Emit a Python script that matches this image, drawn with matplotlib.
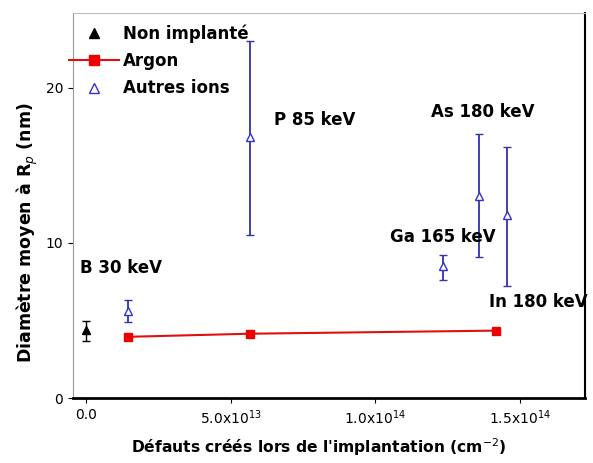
import matplotlib.pyplot as plt
import numpy as np
from matplotlib.lines import Line2D

plt.rcParams['font.family'] = ['DejaVu Sans']

# Non implanté
ref_x = [0.0]
ref_y = [4.4]
ref_err = [[0.7], [0.6]]

# Argon
argon_x = [1.45e13, 5.67e13, 14.19e13]
argon_y = [3.95, 4.15, 4.35]

# Autres ions
ions_noms = ["B 30 keV", "P 85 keV", "Ga 165 keV", "As 180 keV", "In 180 keV"]
ions_x = [1.45e13, 5.67e13, 12.35e13, 13.6e13, 14.57e13]
ions_y = [5.6, 16.8, 8.5, 13.0, 11.8]
ions_bas = [4.9, 10.5, 7.6, 9.1, 7.2]
ions_haut = [6.3, 23.0, 9.2, 17.0, 16.2]

# positions des etiquettes (coordonnees donnees)
etiq_x = [-0.2e13, 6.5e13, 10.5e13, 11.95e13, 13.95e13]
etiq_y = [8.4, 17.9, 10.4, 18.4, 6.2]

xticks = [0.0, 5e13, 1e14, 1.5e14]
xtick_labels = ["0.0", r"5.0x10$^{13}$", r"1.0x10$^{14}$", r"1.5x10$^{14}$"]
yticks = [0, 10, 20]

fig = plt.figure(figsize=(5.93, 4.63), dpi=100)
ax = fig.add_axes([0.123, 0.14, 0.864, 0.832])

ions_y = np.array(ions_y)
err = [ions_y - np.array(ions_bas), np.array(ions_haut) - ions_y]

ax.errorbar(ref_x, ref_y, yerr=ref_err, fmt='^', color='black', ms=6,
            capsize=3, elinewidth=1)
ax.plot(argon_x, argon_y, '-s', color='#e01010', mfc='#ee0000', mec='#ee0000',
        ms=6, lw=1.5)
ax.errorbar(ions_x, ions_y, yerr=err, fmt='^', color='#3333aa', mfc='white',
            mec='#3333cc', ms=6, capsize=3, elinewidth=1.3)

for nom, x, y in zip(ions_noms, etiq_x, etiq_y):
    ax.text(x, y, nom, fontsize=12, fontweight='bold', va='center', ha='left',
            clip_on=False)

ax.set_xlim(-0.45e13, 17.27e13)
ax.set_ylim(0, 24.8)
ax.set_xticks(xticks)
ax.set_xticklabels(xtick_labels, fontsize=10)
ax.set_yticks(yticks)
ax.set_yticklabels([str(t) for t in yticks], fontsize=10)
ax.set_xlabel("Défauts créés lors de l'implantation (cm$^{-2}$)", fontsize=11.2,
              fontweight='bold')
ax.set_ylabel("Diamètre moyen à R$_p$ (nm)", fontsize=12.5, fontweight='bold')
ax.yaxis.set_label_coords(-0.065, 0.43)
ax.xaxis.set_label_coords(0.48, -0.1)

ax.spines['left'].set_color('#999999')
ax.spines['top'].set_color('#bbbbbb')
ax.spines['bottom'].set_linewidth(2)
ax.spines['right'].set_linewidth(1.5)

handles = [
    Line2D([], [], ls='none', marker='^', color='black', ms=7),
    Line2D([], [], ls='-', marker='s', color='#e01010', mfc='#ee0000',
           mec='#ee0000', ms=7, lw=1.5),
    Line2D([], [], ls='none', marker='^', color='#3333cc', mfc='white', ms=7),
]
ax.legend(handles, ["Non implanté", "Argon", "Autres ions"], loc='upper left',
          bbox_to_anchor=(-0.03, 1.0), frameon=False,
          prop={'weight': 'bold', 'size': 12}, handlelength=3.0,
          handletextpad=0.2, borderaxespad=0.3, labelspacing=0.55)

fig.savefig("out.png", dpi=100)
